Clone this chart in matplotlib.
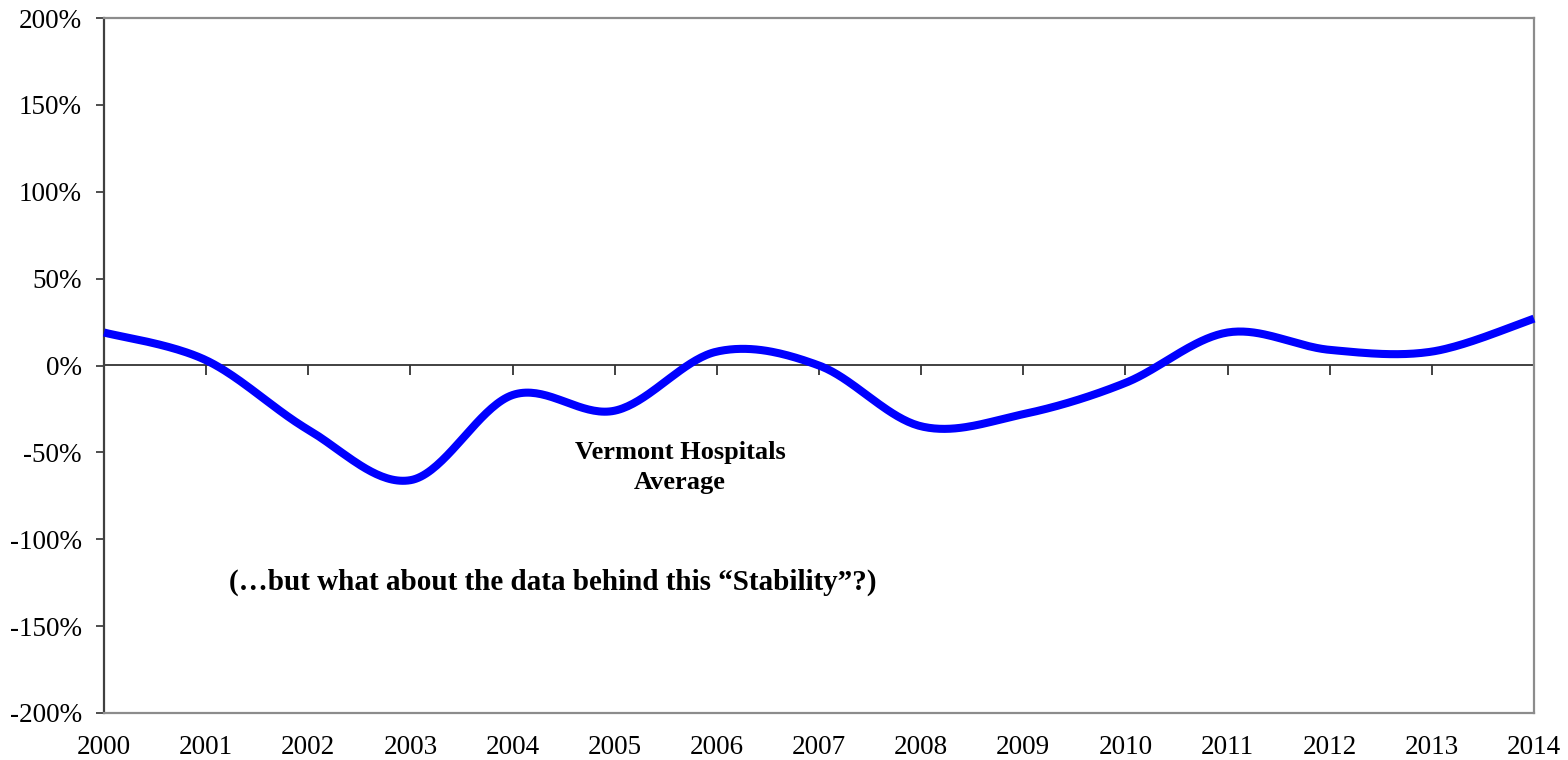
import numpy as np
import matplotlib
matplotlib.use("Agg")
import matplotlib.pyplot as plt
from matplotlib.ticker import FuncFormatter

years = [2000, 2001, 2002, 2003, 2004, 2005, 2006, 2007, 2008, 2009, 2010, 2011, 2012, 2013, 2014]
values = [19, 3, -37, -66, -17, -26, 8, 0, -35, -28, -10, 19, 9, 8, 27]
yticks = [-200, -150, -100, -50, 0, 50, 100, 150, 200]
label_main = "Vermont Hospitals\nAverage"
label_note = "(\u2026but what about the data behind this \u201cStability\u201d?)"

plt.rcParams['font.family'] = ['Liberation Serif', 'DejaVu Serif']


def smooth(xs, ys, n=40):
    xs = np.asarray(xs, float)
    ys = np.asarray(ys, float)
    P = np.column_stack([xs, ys])
    ext = np.vstack([P[0], P, P[-1]])
    out = []
    t = np.linspace(0, 1, n)
    for i in range(len(P) - 1):
        p0, p1, p2, p3 = ext[i], ext[i + 1], ext[i + 2], ext[i + 3]
        c1 = p1 + (p2 - p0) / 6.0
        c2 = p2 - (p3 - p1) / 6.0
        seg = ((1 - t) ** 3)[:, None] * p1 + (3 * (1 - t) ** 2 * t)[:, None] * c1 \
            + (3 * (1 - t) * t ** 2)[:, None] * c2 + (t ** 3)[:, None] * p2
        out.append(seg if i == 0 else seg[1:])
    s = np.vstack(out)
    return s[:, 0], s[:, 1]


fig = plt.figure(figsize=(15.68, 7.6), dpi=100)
ax = fig.add_axes([104 / 1568, 1 - 713 / 760, (1534 - 104) / 1568, (713 - 18) / 760])

sx, sy = smooth(years, values)
ax.plot(sx, sy, color='#0000FF', lw=5.8, solid_capstyle='butt', zorder=3, clip_on=False)

ax.set_xlim(2000, 2014)
ax.set_ylim(-200, 200)
ax.set_yticks(yticks)
ax.yaxis.set_major_formatter(FuncFormatter(lambda v, p: f"{int(v)}%"))
ax.set_xticks(years)
ax.set_xticklabels([str(y) for y in years])

for side in ['top', 'right', 'bottom']:
    ax.spines[side].set_color('#8c8c8c')
    ax.spines[side].set_linewidth(1.6)
ax.spines['left'].set_color('#404040')
ax.spines['left'].set_linewidth(1.6)

ax.tick_params(axis='x', length=0, pad=16, labelsize=19.5, colors='black')
ax.tick_params(axis='y', length=6, width=1.3, color='#404040', pad=10, labelsize=19.5)

# zero line with year tick marks
sec = ax.secondary_xaxis(0.5)
sec.set_xticks(years)
sec.set_xticklabels([])
sec.tick_params(axis='x', direction='in', length=7, width=1.3, color='#333333',
                labelbottom=False, labeltop=False)
for sp in sec.spines.values():
    sp.set_color('#333333')
    sp.set_linewidth(1.3)

ax.text(2005.64, -58.5, label_main, ha='center', va='center', fontsize=19,
        fontweight='bold', linespacing=1.38)
ax.text(2004.39, -124.7, label_note, ha='center', va='center', fontsize=21,
        fontweight='bold')

fig.savefig('out.png', dpi=100)
